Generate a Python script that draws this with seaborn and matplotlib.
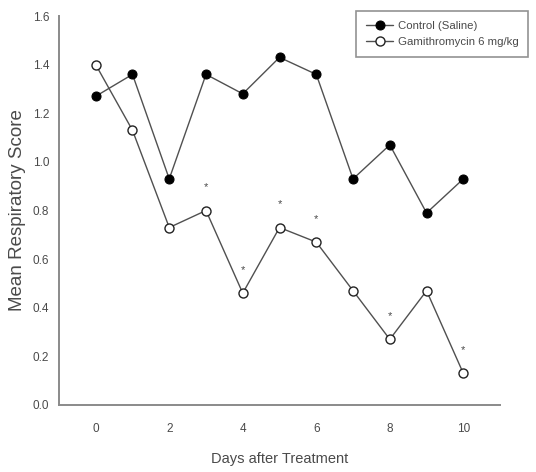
import numpy as np
import pandas as pd
import matplotlib
matplotlib.use("Agg")
import matplotlib.pyplot as plt
import seaborn as sns

# data
days = [0, 1, 2, 3, 4, 5, 6, 7, 8, 9, 10]
control = [1.27, 1.36, 0.93, 1.36, 1.28, 1.43, 1.36, 0.93, 1.07, 0.79, 0.93]
gamithro = [1.40, 1.13, 0.73, 0.80, 0.46, 0.73, 0.67, 0.47, 0.27, 0.47, 0.13]
sig_days = [3, 4, 5, 6, 8, 10]
labels = ["Control (Saline)", "Gamithromycin 6 mg/kg"]

sns.set_theme(style="white")
plt.rcParams['font.family'] = ['Liberation Sans', 'DejaVu Sans']

txt = '#4a4a4a'
axc = '#8a8a8a'
linec = '#505050'

df = pd.DataFrame({
    'day': days * 2,
    'score': control + gamithro,
    'group': [labels[0]] * len(days) + [labels[1]] * len(days),
})

fig = plt.figure(figsize=(5.36, 4.72), dpi=100)
ax = fig.add_axes([0.110, 0.142, 0.823, 0.824])

sns.lineplot(data=df[df.group == labels[0]], x='day', y='score', ax=ax,
             color=linec, lw=1.0, marker='o', markersize=6.5,
             markerfacecolor='black', markeredgecolor='black', label=labels[0])
sns.lineplot(data=df[df.group == labels[1]], x='day', y='score', ax=ax,
             color=linec, lw=1.0, marker='o', markersize=6.5,
             markerfacecolor='white', markeredgecolor='#222222', markeredgewidth=1.0,
             label=labels[1])

# significance marks
for d in sig_days:
    ax.text(d, gamithro[d] + 0.095, '*', ha='center', va='center', fontsize=8, color=txt)

ax.set_xlim(-1, 11)
ax.set_ylim(0, 1.6)
ax.set_xticks([0, 2, 4, 6, 8, 10])
ax.set_yticks(np.arange(0, 1.61, 0.2))
ax.set_yticklabels([f'{v:.1f}' for v in np.arange(0, 1.61, 0.2)])
ax.set_xlabel('Days after Treatment', fontsize=10.5, color=txt, labelpad=12)
ax.set_ylabel('Mean Respiratory Score', fontsize=13.5, color=txt, labelpad=5)

for s in ['top', 'right']:
    ax.spines[s].set_visible(False)
for s in ['left', 'bottom']:
    ax.spines[s].set_color(axc)
    ax.spines[s].set_linewidth(1.4)
ax.tick_params(axis='both', direction='out', length=4, width=1, color=axc,
               labelsize=8.5, labelcolor=txt)
ax.tick_params(axis='x', pad=9)
ax.tick_params(axis='y', pad=3)

leg = ax.legend(loc='upper right', bbox_to_anchor=(0.996, 0.988),
                bbox_transform=fig.transFigure, fontsize=8.2, frameon=True,
                fancybox=False, handlelength=2.4, handletextpad=0.4,
                borderpad=0.85, labelspacing=0.55)
leg.get_frame().set_edgecolor('#777777')
leg.get_frame().set_linewidth(1.2)
for t in leg.get_texts():
    t.set_color(txt)

fig.savefig('out.png', dpi=100)
